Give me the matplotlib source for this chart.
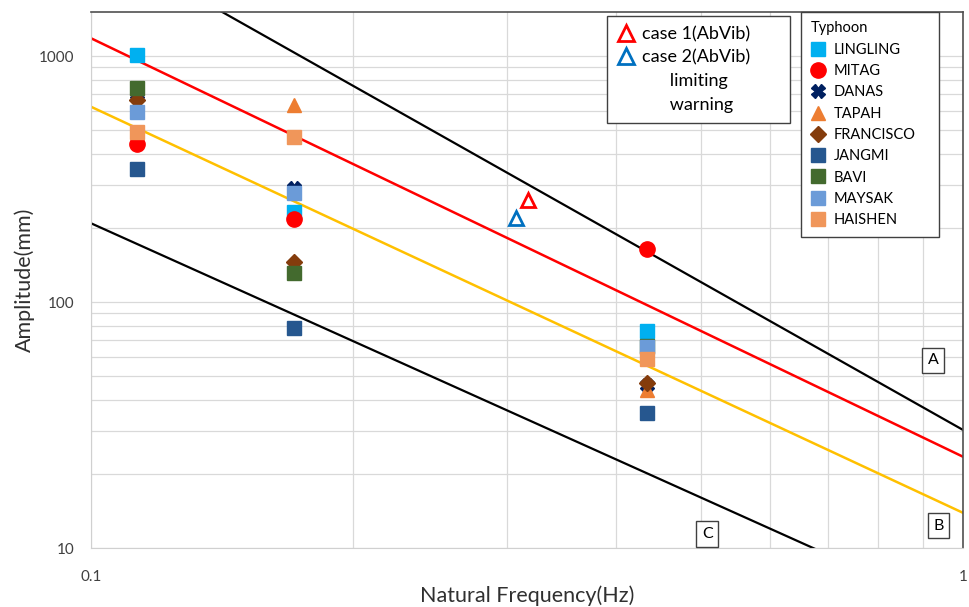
import matplotlib
matplotlib.use("Agg")
import matplotlib.pyplot as plt
from matplotlib.lines import Line2D
from matplotlib.ticker import FixedLocator, NullFormatter, LogLocator

plt.rcParams['font.family'] = ['Lato', 'DejaVu Sans']

# data
freq = [0.113, 0.171, 0.434]
lingling = [1010, 233, 76]
mitag = [437, 217, 164]
danas = [700, 290, 46]
tapah = [740, 632, 43.8]
francisco = [662, 146, 46.8]
jangmi = [346, 78.2, 35.3]
bavi = [739, 131.5, 66.5]
maysak = [594, 277, 65.8]
haishen = [492, 468, 58.5]

case1_x, case1_y = [0.317], [260]
case2_x, case2_y = [0.307], [219]

line_x = [0.1, 1.0]
line_a = [3020, 30.2]     # black, upper
line_red = [1181, 23.5]   # limiting
line_yel = [622, 13.9]    # warning
line_c = [209, 5.32]      # black, lower

fig = plt.figure(figsize=(9.7, 6.07), dpi=100)
ax = fig.add_axes([91 / 970, 59 / 607, 872 / 970, 536 / 607])

ax.plot(line_x, line_a, c="black", lw=1.6, zorder=2)
ax.plot(line_x, line_red, c="#ff0000", lw=1.8, zorder=2)
ax.plot(line_x, line_yel, c="#ffc000", lw=1.8, zorder=2)
ax.plot(line_x, line_c, c="black", lw=1.6, zorder=2)

series = [
    ("LINGLING", lingling, "s", "#00b0f0", 10),
    ("MITAG", mitag, "o", "#ff0000", 11),
    ("DANAS", danas, "X", "#002060", 10),
    ("TAPAH", tapah, "^", "#ed7d31", 10),
    ("FRANCISCO", francisco, "D", "#843c0c", 8),
    ("JANGMI", jangmi, "s", "#26578f", 10),
    ("BAVI", bavi, "s", "#436a2e", 10),
    ("MAYSAK", maysak, "s", "#6b9bd8", 10),
    ("HAISHEN", haishen, "s", "#f0965a", 10),
]
handles = []
for i, (name, vals, mk, col, ms) in enumerate(series):
    h, = ax.plot(freq, vals, ls="none", marker=mk, ms=ms, color=col,
                 mec=col, zorder=3 + i, label=name)
    handles.append(h)

ax.plot(case1_x, case1_y, ls="none", marker="^", ms=10, mfc="none",
        mec="#ff0000", mew=2, zorder=15)
ax.plot(case2_x, case2_y, ls="none", marker="^", ms=10, mfc="none",
        mec="#0070c0", mew=2, zorder=15)

ax.set_xscale("log")
ax.set_yscale("log")
ax.set_xlim(0.1, 1)
ax.set_ylim(10, 1510)

ax.xaxis.set_major_locator(FixedLocator([0.1, 1]))
ax.set_xticklabels(["0.1", "1"])
ax.yaxis.set_major_locator(FixedLocator([10, 100, 1000]))
ax.set_yticklabels(["10", "100", "1000"])
ax.xaxis.set_minor_locator(LogLocator(subs=range(2, 10)))
ax.yaxis.set_minor_locator(LogLocator(subs=range(2, 10)))
ax.xaxis.set_minor_formatter(NullFormatter())
ax.yaxis.set_minor_formatter(NullFormatter())
ax.tick_params(which="both", length=0, labelsize=11, colors="#404040")
ax.tick_params(axis="x", pad=16)
ax.tick_params(axis="y", pad=12)
ax.grid(which="both", color="#d9d9d9", lw=0.9)
ax.set_axisbelow(True)

for s in ["left", "bottom"]:
    ax.spines[s].set_color("#d0d0d0")
for s in ["top", "right"]:
    ax.spines[s].set_color("#505050")
    ax.spines[s].set_linewidth(1.2)

ax.set_xlabel("Natural Frequency(Hz)", fontsize=15.5, color="#303030", labelpad=1)
ax.set_ylabel("Amplitude(mm)", fontsize=15.5, color="#303030", labelpad=3)

# A / B / C zone labels
box = dict(boxstyle="square,pad=0.35", fc="white", ec="#404040", lw=1)
ax.text(0.924, 58, "A", fontsize=11.5, ha="center", va="center", bbox=box, zorder=20)
ax.text(0.937, 12.3, "B", fontsize=11.5, ha="center", va="center", bbox=box, zorder=20)
ax.text(0.509, 11.4, "C", fontsize=11.5, ha="center", va="center", bbox=box, zorder=20)

# legend for cases / lines
case_handles = [
    Line2D([], [], ls="none", marker="^", ms=11, mfc="none", mec="#ff0000", mew=2),
    Line2D([], [], ls="none", marker="^", ms=11, mfc="none", mec="#0070c0", mew=2),
    Line2D([], [], ls="none"),
    Line2D([], [], ls="none"),
]
case_labels = ["case 1(AbVib)", "case 2(AbVib)", "      limiting", "      warning"]
leg1 = ax.legend(case_handles, case_labels, loc="upper left",
                 bbox_to_anchor=(0.592, 0.79, 0.21, 0.2025), mode="expand",
                 borderaxespad=0, fontsize=13, fancybox=False, framealpha=1,
                 edgecolor="#404040", handlelength=1.0, handletextpad=0.4,
                 labelspacing=0.42, borderpad=0.55)
leg1.get_frame().set_linewidth(1.0)
leg1.set_zorder(30)
ax.add_artist(leg1)

leg2 = ax.legend(handles=handles, title="Typhoon", loc="upper left",
                 bbox_to_anchor=(0.814, 0.58, 0.159, 0.42), mode="expand",
                 borderaxespad=0, fontsize=10.5, title_fontsize=10.5,
                 alignment="left", fancybox=False, framealpha=1,
                 edgecolor="#404040", handlelength=1.0, handletextpad=0.6,
                 labelspacing=0.5, borderpad=0.65, markerscale=1.0)
leg2.get_frame().set_linewidth(1.0)
leg2.set_zorder(30)

fig.savefig("out.png", dpi=100)
